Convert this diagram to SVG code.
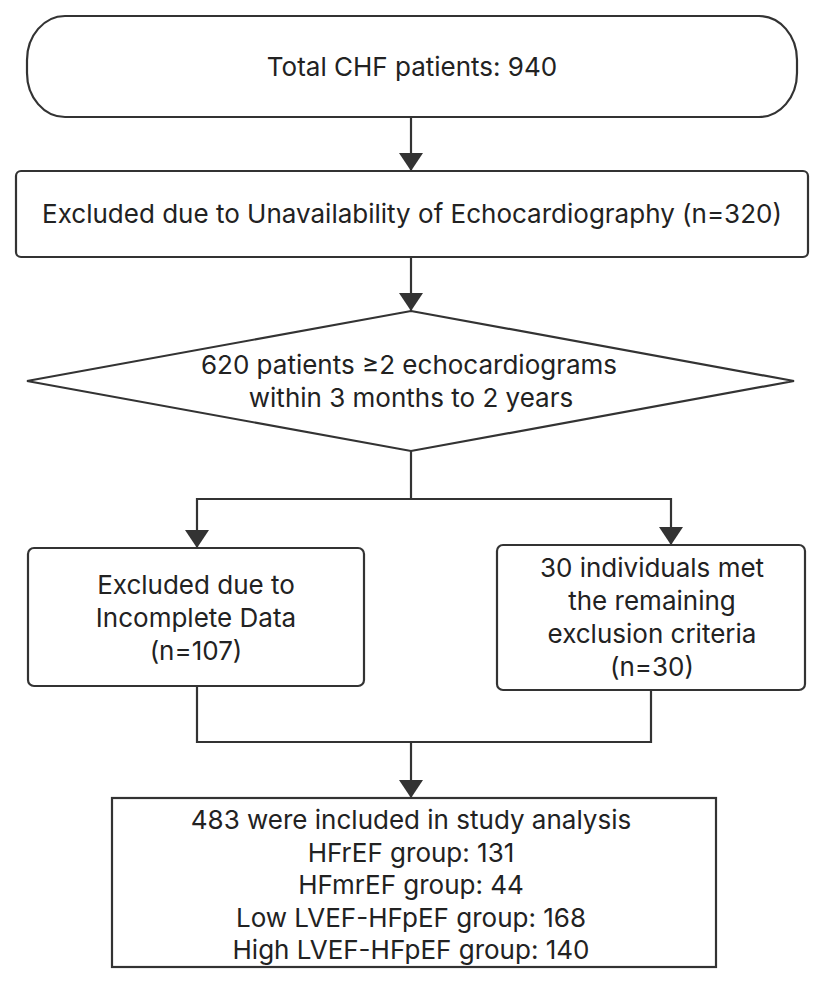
<svg xmlns="http://www.w3.org/2000/svg" width="827" height="990" viewBox="0 0 827 990">
<style>
.box{fill:#fff;stroke:#333;stroke-width:2.2}
.ln{fill:none;stroke:#333;stroke-width:2.2}
.t{font-family:Inter,"Open Sans","DejaVu Sans",sans-serif;font-size:26px;fill:#222;text-anchor:middle}
</style>
<defs>
<marker id="ah" markerWidth="18" markerHeight="24" refX="24" refY="9" orient="auto" markerUnits="userSpaceOnUse" viewBox="0 0 24 18" preserveAspectRatio="none">
<path d="M0,0 L24,9 L0,18 Z" fill="#333"/>
</marker>
</defs>
<rect width="827" height="990" fill="#fff"/>
<g id="connectors">
<line class="ln" x1="411" y1="117" x2="411" y2="171" marker-end="url(#ah)"/>
<line class="ln" x1="411" y1="257" x2="411" y2="311" marker-end="url(#ah)"/>
<polyline class="ln" points="411,451 411,499"/>
<polyline class="ln" points="411,499 197,499 197,548" marker-end="url(#ah)"/>
<polyline class="ln" points="411,499 671,499 671,545" marker-end="url(#ah)"/>
<polyline class="ln" points="197,686 197,742 651,742 651,690"/>
<line class="ln" x1="411" y1="742" x2="411" y2="798" marker-end="url(#ah)"/>
</g>
<g id="start">
<rect class="box" x="27" y="16" width="770" height="101" rx="38" ry="44"/>
<text class="t" x="412" y="76">Total CHF patients: 940</text>
</g>
<g id="excluded-echo">
<rect class="box" x="16" y="171" width="792" height="86" rx="5"/>
<text class="t" x="412" y="223">Excluded due to Unavailability of Echocardiography (n=320)</text>
</g>
<g id="decision">
<polygon class="box" points="411,311 794,381 411,451 27,381"/>
<text class="t" x="409" y="374">620 patients ≥2 echocardiograms</text>
<text class="t" x="411" y="407">within 3 months to 2 years</text>
</g>
<g id="excluded-incomplete">
<rect class="box" x="28" y="548" width="336" height="138" rx="6"/>
<text class="t" x="196" y="594">Excluded due to</text>
<text class="t" x="196" y="627">Incomplete Data</text>
<text class="t" x="196" y="660">(n=107)</text>
</g>
<g id="excluded-other">
<rect class="box" x="497" y="545" width="308" height="145" rx="6"/>
<text class="t" x="652" y="577">30 individuals met</text>
<text class="t" x="652" y="610">the remaining</text>
<text class="t" x="652" y="643">exclusion criteria</text>
<text class="t" x="652" y="676">(n=30)</text>
</g>
<g id="included">
<rect class="box" x="112" y="798" width="604" height="169"/>
<text class="t" x="411" y="829">483 were included in study analysis</text>
<text class="t" x="411" y="861.5">HFrEF group: 131</text>
<text class="t" x="411" y="894">HFmrEF group: 44</text>
<text class="t" x="411" y="926.5">Low LVEF-HFpEF group: 168</text>
<text class="t" x="411" y="959">High LVEF-HFpEF group: 140</text>
</g>
</svg>
